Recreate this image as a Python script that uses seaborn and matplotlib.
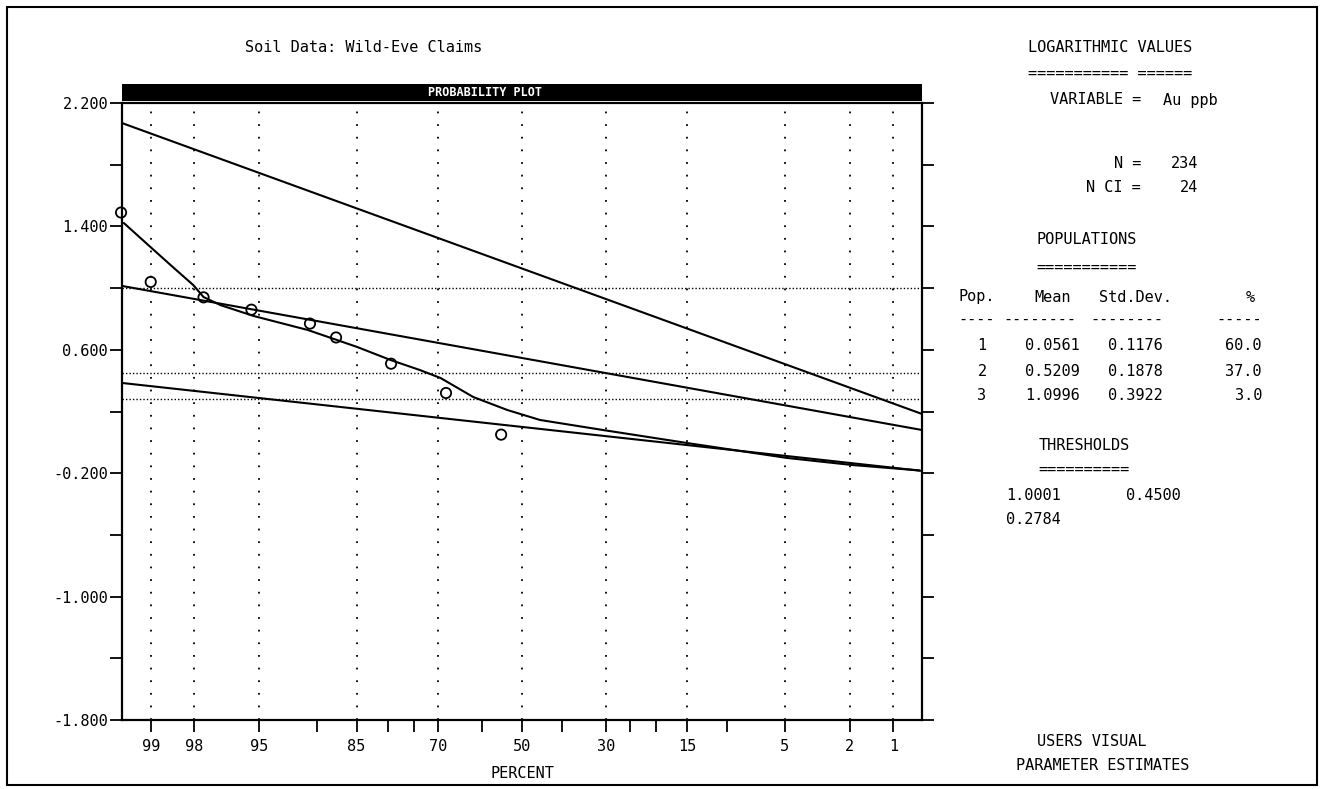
import numpy as np
import pandas as pd
import seaborn as sns
import matplotlib
matplotlib.use("Agg")
import matplotlib.pyplot as plt
from matplotlib.patches import Rectangle
from matplotlib.ticker import FixedLocator, FixedFormatter
from statistics import NormalDist

# ---- data ----
pct_major = [99, 98, 95, 85, 70, 50, 30, 15, 5, 2, 1]
pct_minor = [90, 80, 75, 60, 40, 25, 20, 10]
y_major = [-1.8, -1.0, -0.2, 0.6, 1.4, 2.2]
y_minor = [-1.4, -0.6, 0.2, 1.0, 1.8]

# observed points (percent, log value)
obs_pct = [99.4, 99.0, 97.7, 95.5, 90.8, 87.8, 79.4, 68.3, 55.2]
obs_val = [1.49, 1.04, 0.94, 0.86, 0.77, 0.68, 0.51, 0.32, 0.05]

# combined (mixture) curve
mix_pct = [99.37, 99.04, 98.54, 98.03, 97.7, 97.06, 95.36, 91.0, 84.9, 79.5,
           73.9, 69.5, 62.0, 53.7, 45.5, 30.6, 15.1, 4.85, 1.92, 0.64]
mix_val = [1.422, 1.279, 1.130, 1.020, 0.942, 0.890, 0.819, 0.728, 0.618, 0.534,
           0.469, 0.417, 0.294, 0.210, 0.145, 0.080, -0.004, -0.101, -0.147, -0.182]

# straight population lines, values at the two ends of the axis
line_pct = [99.39, 0.61]
pop1_val = [0.385, -0.185]
pop2_val = [1.014, 0.080]
pop3_val = [2.070, 0.184]

thresholds = [1.0001, 0.4500, 0.2784]

# table on the right
pops = ["1", "2", "3"]
means = ["0.0561", "0.5209", "1.0996"]
sds = ["0.1176", "0.1878", "0.3922"]
pcts = ["60.0", "37.0", "3.0"]

# ---- probability scale ----
_nd = NormalDist()
_ppf = np.vectorize(_nd.inv_cdf, otypes=[float])
_cdf = np.vectorize(_nd.cdf, otypes=[float])


def fwd(p):
    p = np.clip(np.asarray(p, dtype=float) / 100.0, 1e-9, 1 - 1e-9)
    return _ppf(p)


def inv(z):
    return _cdf(np.asarray(z, dtype=float)) * 100.0


sns.set_style("white")
plt.rcParams["font.family"] = ["DejaVu Sans Mono"]
plt.rcParams["font.size"] = 11
plt.rcParams["text.color"] = "black"

W, H = 1322, 789
fig = plt.figure(figsize=(W / 100, H / 100), dpi=100)
ax = fig.add_axes([122 / W, 1 - 720 / H, 800 / W, 617 / H])
ax.set_xscale("function", functions=(fwd, inv))

for val in thresholds:
    ax.axhline(val, color="black", lw=1.0, ls=(0, (1, 1.5)), zorder=1)
for p in pct_major:
    ax.axvline(p, color="black", lw=1.3, ls=(0, (1, 6)), zorder=1)

for vals in [pop1_val, pop2_val, pop3_val]:
    sns.lineplot(x=line_pct, y=vals, color="black", lw=1.5, sort=False, ax=ax)
sns.lineplot(x=mix_pct, y=mix_val, color="black", lw=1.5, sort=False, ax=ax)
sns.scatterplot(x=obs_pct, y=obs_val, marker="o", s=55, facecolors="none",
                edgecolors="black", linewidth=1.3, ax=ax, clip_on=False, zorder=5)

ax.set_xlim(99.39, 0.61)
ax.set_ylim(-1.8, 2.2)

ax.xaxis.set_major_locator(FixedLocator(pct_major))
ax.xaxis.set_major_formatter(FixedFormatter([str(p) for p in pct_major]))
ax.xaxis.set_minor_locator(FixedLocator(pct_minor))
ax.yaxis.set_major_locator(FixedLocator(y_major))
ax.yaxis.set_major_formatter(FixedFormatter(["%.3f" % v for v in y_major]))
ax.yaxis.set_minor_locator(FixedLocator(y_minor))

ax.tick_params(axis="both", which="both", direction="out", length=8.5, width=1.3,
               colors="black", labelsize=11)
ax.tick_params(axis="y", which="both", right=True, left=True, pad=1.5)
ax.tick_params(axis="x", which="both", bottom=True, top=False, pad=5)
for s in ax.spines.values():
    s.set_linewidth(1.6)
    s.set_color("black")
ax.set_xlabel("PERCENT", fontsize=11, labelpad=9, color="black")
ax.set_ylabel("")


def px(x, y):
    return x / W, 1 - y / H


def t(x, y, s, ha="left", **kw):
    fig.text(*px(x, y), s, ha=ha, va="center", fontsize=11, color="black", **kw)


# header bar
fig.patches.append(Rectangle(px(122, 101), 800 / W, 17 / H, transform=fig.transFigure,
                             facecolor="black", edgecolor="none"))
fig.text(*px(485, 92.5), "PROBABILITY PLOT", ha="center", va="center", color="white",
         fontsize=8.5, fontweight="bold")

# outer frame
fig.patches.append(Rectangle(px(7, 785), 1310 / W, 778 / H, transform=fig.transFigure,
                             fill=False, edgecolor="black", lw=1.5))

t(364, 47, "Soil Data: Wild-Eve Claims", "center")

t(1110, 47, "LOGARITHMIC VALUES", "center")
t(1110, 73, "=========== ======", "center")
t(1141, 100, "VARIABLE =", "right")
t(1163, 100, "Au ppb")
t(1141, 164, "N =", "right")
t(1198, 164, "234", "right")
t(1141, 187, "N CI =", "right")
t(1198, 187, "24", "right")
t(1087, 239, "POPULATIONS", "center")
t(1087, 267, "===========", "center")
t(958, 297, "Pop.")
t(1053, 297, "Mean", "center")
t(1135, 297, "Std.Dev.", "center")
t(1250, 297, "%", "center")
t(958, 319, "----")
t(1003, 319, "--------")
t(1090, 319, "--------")
t(1216, 319, "-----")
for i, (pn, m, sd, pc) in enumerate(zip(pops, means, sds, pcts)):
    yy = 346 + 25 * i
    t(982, yy, pn, "center")
    t(1080, yy, m, "right")
    t(1163, yy, sd, "right")
    t(1262, yy, pc, "right")
t(1084, 446, "THRESHOLDS", "center")
t(1084, 469, "==========", "center")
t(1006, 495, "%.4f" % thresholds[0])
t(1126, 495, "%.4f" % thresholds[1])
t(1006, 519, "%.4f" % thresholds[2])
t(1092, 742, "USERS VISUAL", "center")
t(1103, 765, "PARAMETER ESTIMATES", "center")

fig.savefig("out.png", dpi=100)
